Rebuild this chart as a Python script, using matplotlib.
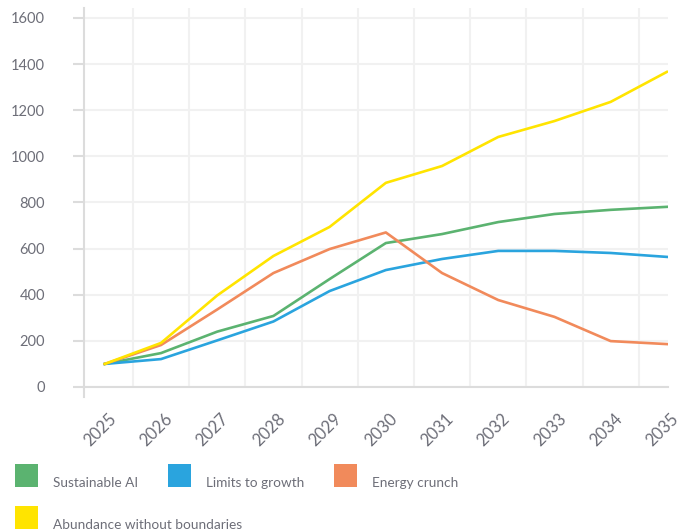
import matplotlib.pyplot as plt
from matplotlib.patches import Rectangle
from matplotlib.transforms import ScaledTranslation

plt.rcParams['font.family'] = ['Lato', 'DejaVu Sans']

years = [2025, 2026, 2027, 2028, 2029, 2030, 2031, 2032, 2033, 2034, 2035]
sustainable_ai = [100, 147, 240, 308, 468, 624, 663, 715, 750, 768, 781]
limits_to_growth = [100, 121, 202, 284, 416, 507, 555, 590, 590, 581, 564]
energy_crunch = [100, 182, 336, 494, 598, 670, 494, 377, 304, 199, 186]
abundance = [100, 191, 397, 568, 694, 885, 958, 1084, 1153, 1236, 1366]

series = [
    ("Sustainable AI", sustainable_ai, "#5bb370"),
    ("Limits to growth", limits_to_growth, "#2aa4de"),
    ("Energy crunch", energy_crunch, "#f18a5b"),
    ("Abundance without boundaries", abundance, "#ffe400"),
]
y_ticks = [0, 200, 400, 600, 800, 1000, 1200, 1400, 1600]

text_col = "#6d6e78"
axis_col = "#dcdcdc"
grid_col = "#f1f1f1"
W, H = 688, 531

fig = plt.figure(figsize=(W / 100, H / 100), dpi=100)
ax = fig.add_axes([84 / W, 1 - 387 / H, (668 - 84) / W, (387 - 8) / H])

for name, vals, col in series:
    ax.plot(years, vals, color=col, lw=1.9, solid_joinstyle='round', zorder=3)

ax.set_xlim(2024.63, 2035.02)
ax.set_ylim(0, 1643)

# axis lines and ticks
for s in ['top', 'right']:
    ax.spines[s].set_visible(False)
for s in ['left', 'bottom']:
    ax.spines[s].set_color(axis_col)
    ax.spines[s].set_linewidth(1.5)
ax.spines['left'].set_bounds(-45, 1643)

ax.set_yticks(y_ticks)
ax.set_yticklabels([str(v) for v in y_ticks])
ax.tick_params(axis='y', length=8, width=1.5, color=axis_col, pad=20,
               labelsize=10.5, labelcolor=text_col)

ax.set_xticks(years)
ax.set_xticklabels([str(y) for y in years])
ax.set_xticks([y + 0.5 for y in years[:-1]], minor=True)
ax.tick_params(axis='x', which='both', length=0, labelsize=12,
               labelcolor=text_col, pad=21)
for lab in ax.get_xticklabels():
    lab.set_rotation(45)
    lab.set_ha('right')
    lab.set_va('center')
    lab.set_rotation_mode('anchor')
    lab.set_transform(lab.get_transform() + ScaledTranslation(9 / 100, 0, fig.dpi_scale_trans))

ax.grid(axis='y', which='major', color=grid_col, lw=1.5, zorder=0)
ax.grid(axis='x', which='minor', color=grid_col, lw=1.5, zorder=0)
ax.set_axisbelow(True)

# legend laid out as a wrapping row of swatches
renderer = fig.canvas.get_renderer()
x, y = 15, 464
sw, gap_txt, gap_item, row_h = 23, 15, 30, 42
for name, vals, col in series:
    t = fig.text(0, 0, name, fontsize=9.8, color=text_col, va='baseline')
    tw = t.get_window_extent(renderer).width
    if x + sw + gap_txt + tw > W:
        x = 15
        y += row_h
    fig.add_artist(Rectangle((x / W, 1 - (y + sw) / H), sw / W, sw / H,
                             transform=fig.transFigure, color=col, lw=0))
    t.set_position(((x + sw + gap_txt) / W, 1 - (y + sw) / H))
    x += sw + gap_txt + tw + gap_item

fig.savefig("out.png", dpi=100)
